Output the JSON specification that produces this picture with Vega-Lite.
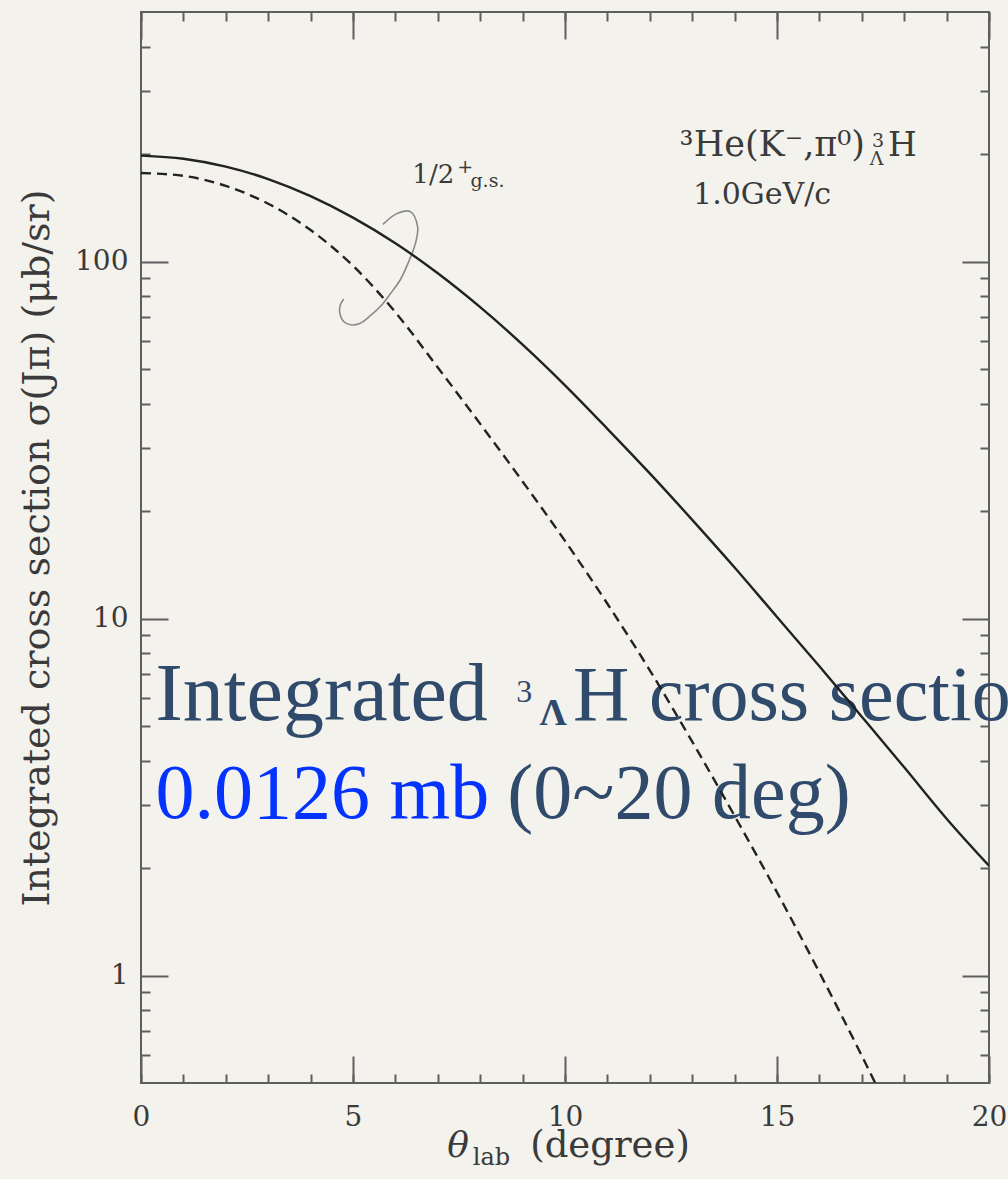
{
  "$schema": "https://vega.github.io/schema/vega-lite/v6.json",
  "width": 848,
  "height": 1071,
  "autosize": {"type": "none"},
  "padding": {"left": 141, "top": 12, "right": 19, "bottom": 96},
  "background": "#f4f2ed",
  "config": {
    "view": {"stroke": "#5e5e5e", "strokeWidth": 2},
    "axis": {
      "domain": false,
      "grid": false,
      "labelFont": "DejaVu Serif",
      "labelFontSize": 28,
      "labelColor": "#3a3a3a",
      "tickColor": "#5e5e5e",
      "tickWidth": 2,
      "titleFont": "DejaVu Serif",
      "titleFontWeight": "normal",
      "titleColor": "#3a3a3a"
    }
  },
  "resolve": {"axis": {"x": "independent", "y": "independent"}},
  "layer": [
    {
      "data": {"values": [
        {"t": 10.19, "s": 5.204, "text": "H cross section"},
        {"t": 8.64, "s": 2.765, "text": "(0~20 deg)"}
      ]},
      "mark": {"type": "text", "font": "Liberation Serif", "fontSize": 78, "color": "#2f4a6b", "align": "left", "baseline": "alphabetic"},
      "encoding": {
        "x": {"field": "t", "type": "quantitative", "scale": {"domain": [0, 20], "nice": false, "zero": false},
              "axis": {"orient": "top", "values": [0, 5, 10, 15, 20], "labels": false, "tickSize": -27, "title": null}},
        "y": {"field": "s", "type": "quantitative", "scale": {"type": "log", "domain": [0.5, 500], "nice": false},
              "axis": {"orient": "right", "values": [1, 10, 100], "labels": false, "tickSize": -27, "title": null}},
        "text": {"field": "text"}
      }
    },
    {
      "data": {"values": [{"t": 0.342, "s": 5.204, "text": "Integrated"}]},
      "mark": {"type": "text", "font": "Liberation Serif", "fontSize": 82, "color": "#2f4a6b", "align": "left", "baseline": "alphabetic"},
      "encoding": {
        "x": {"field": "t", "type": "quantitative", "scale": {"domain": [0, 20], "nice": false, "zero": false}, "axis": null},
        "y": {"field": "s", "type": "quantitative", "scale": {"type": "log", "domain": [0.5, 500], "nice": false}, "axis": null},
        "text": {"field": "text"}
      }
    },
    {
      "data": {"values": [{"t": 8.85, "s": 5.845, "text": "3"}]},
      "mark": {"type": "text", "font": "Liberation Serif", "fontSize": 32, "color": "#2f4a6b", "align": "left", "baseline": "alphabetic"},
      "encoding": {
        "x": {"field": "t", "type": "quantitative", "scale": {"domain": [0, 20], "nice": false, "zero": false},
              "axis": {"orient": "top", "values": [0,1,2,3,4,5,6,7,8,9,10,11,12,13,14,15,16,17,18,19,20], "labels": false, "tickSize": -9, "title": null}},
        "y": {"field": "s", "type": "quantitative", "scale": {"type": "log", "domain": [0.5, 500], "nice": false},
              "axis": {"orient": "right", "values": [0.6,0.7,0.8,0.9,2,3,4,5,6,7,8,9,20,30,40,50,60,70,80,90,200,300,400], "labels": false, "tickSize": -9, "title": null}},
        "text": {"field": "text"}
      }
    },
    {
      "data": {"values": [{"t": 9.4, "s": 5.04, "text": "Λ"}]},
      "mark": {"type": "text", "font": "Liberation Serif", "fontSize": 38, "fontWeight": "bold", "color": "#2f4a6b", "align": "left", "baseline": "alphabetic"},
      "encoding": {
        "x": {"field": "t", "type": "quantitative", "scale": {"domain": [0, 20], "nice": false, "zero": false}, "axis": null},
        "y": {"field": "s", "type": "quantitative", "scale": {"type": "log", "domain": [0.5, 500], "nice": false}, "axis": null},
        "text": {"field": "text"}
      }
    },
    {
      "data": {"values": [{"t": 0.342, "s": 2.765, "text": "0.0126 mb"}]},
      "mark": {"type": "text", "font": "Liberation Serif", "fontSize": 78, "color": "#0433ff", "align": "left", "baseline": "alphabetic"},
      "encoding": {
        "x": {"field": "t", "type": "quantitative", "scale": {"domain": [0, 20], "nice": false, "zero": false}, "axis": null},
        "y": {"field": "s", "type": "quantitative", "scale": {"type": "log", "domain": [0.5, 500], "nice": false}, "axis": null},
        "text": {"field": "text"}
      }
    },
    {
      "data": {"values": [{"t": 17.075, "s": 197.8, "text": "³He(K⁻,π⁰)"}]},
      "mark": {"type": "text", "font": "DejaVu Serif", "fontSize": 35, "color": "#3a3a3a", "align": "right", "baseline": "alphabetic"},
      "encoding": {
        "x": {"field": "t", "type": "quantitative", "scale": {"domain": [0, 20], "nice": false, "zero": false}, "axis": null},
        "y": {"field": "s", "type": "quantitative", "scale": {"type": "log", "domain": [0.5, 500], "nice": false}, "axis": null},
        "text": {"field": "text"}
      }
    },
    {
      "data": {"values": [
        {"t": 17.62, "s": 197.8, "text": "H"}
      ]},
      "mark": {"type": "text", "font": "DejaVu Serif", "fontSize": 33, "color": "#3a3a3a", "align": "left", "baseline": "alphabetic"},
      "encoding": {
        "x": {"field": "t", "type": "quantitative", "scale": {"domain": [0, 20], "nice": false, "zero": false}, "axis": null},
        "y": {"field": "s", "type": "quantitative", "scale": {"type": "log", "domain": [0.5, 500], "nice": false}, "axis": null},
        "text": {"field": "text"}
      }
    },
    {
      "data": {"values": [
        {"t": 13.02, "s": 145, "text": "1.0GeV/c"}
      ]},
      "mark": {"type": "text", "font": "DejaVu Serif", "fontSize": 30, "color": "#3a3a3a", "align": "left", "baseline": "alphabetic"},
      "encoding": {
        "x": {"field": "t", "type": "quantitative", "scale": {"domain": [0, 20], "nice": false, "zero": false}, "axis": null},
        "y": {"field": "s", "type": "quantitative", "scale": {"type": "log", "domain": [0.5, 500], "nice": false}, "axis": null},
        "text": {"field": "text"}
      }
    },
    {
      "data": {"values": [
        {"t": 17.24, "s": 209.6, "text": "3"},
        {"t": 17.19, "s": 186.6, "text": "Λ"},
        {"t": 7.46, "s": 177.3, "text": "+"},
        {"t": 7.77, "s": 161.9, "text": "g.s."}
      ]},
      "mark": {"type": "text", "font": "DejaVu Serif", "fontSize": 19, "color": "#3a3a3a", "align": "left", "baseline": "alphabetic"},
      "encoding": {
        "x": {"field": "t", "type": "quantitative", "scale": {"domain": [0, 20], "nice": false, "zero": false}, "axis": null},
        "y": {"field": "s", "type": "quantitative", "scale": {"type": "log", "domain": [0.5, 500], "nice": false}, "axis": null},
        "text": {"field": "text"}
      }
    },
    {
      "data": {"values": [{"t": 6.40, "s": 166.1, "text": "1/2"}]},
      "mark": {"type": "text", "font": "DejaVu Serif", "fontSize": 26, "color": "#3a3a3a", "align": "left", "baseline": "alphabetic"},
      "encoding": {
        "x": {"field": "t", "type": "quantitative", "scale": {"domain": [0, 20], "nice": false, "zero": false}, "axis": null},
        "y": {"field": "s", "type": "quantitative", "scale": {"type": "log", "domain": [0.5, 500], "nice": false}, "axis": null},
        "text": {"field": "text"}
      }
    },
    {
      "data": {"values": [
        {"t": 7.22, "s": 0.311, "text": "θ"}
      ]},
      "mark": {"type": "text", "font": "DejaVu Serif", "fontStyle": "italic", "fontSize": 36, "color": "#3a3a3a", "align": "left", "baseline": "alphabetic"},
      "encoding": {
        "x": {"field": "t", "type": "quantitative", "scale": {"domain": [0, 20], "nice": false, "zero": false}, "axis": null},
        "y": {"field": "s", "type": "quantitative", "scale": {"type": "log", "domain": [0.5, 500], "nice": false}, "axis": null},
        "text": {"field": "text"}
      }
    },
    {
      "data": {"values": [
        {"t": 7.824, "s": 0.295, "text": "lab"}
      ]},
      "mark": {"type": "text", "font": "DejaVu Serif", "fontSize": 24, "color": "#3a3a3a", "align": "left", "baseline": "alphabetic"},
      "encoding": {
        "x": {"field": "t", "type": "quantitative", "scale": {"domain": [0, 20], "nice": false, "zero": false}, "axis": null},
        "y": {"field": "s", "type": "quantitative", "scale": {"type": "log", "domain": [0.5, 500], "nice": false}, "axis": null},
        "text": {"field": "text"}
      }
    },
    {
      "data": {"values": [
        {"t": 9.18, "s": 0.311, "text": "(degree)"}
      ]},
      "mark": {"type": "text", "font": "DejaVu Serif", "fontSize": 37, "color": "#3a3a3a", "align": "left", "baseline": "alphabetic"},
      "encoding": {
        "x": {"field": "t", "type": "quantitative", "scale": {"domain": [0, 20], "nice": false, "zero": false}, "axis": null},
        "y": {"field": "s", "type": "quantitative", "scale": {"type": "log", "domain": [0.5, 500], "nice": false}, "axis": null},
        "text": {"field": "text"}
      }
    },
    {
      "data": {"values": [
        {"i": 1, "t": 5.708, "s": 127.1},
        {"i": 2, "t": 6.022, "s": 136.0},
        {"i": 3, "t": 6.352, "s": 138.0},
        {"i": 4, "t": 6.524, "s": 125.3},
        {"i": 5, "t": 6.493, "s": 115.0},
        {"i": 6, "t": 6.423, "s": 107.8},
        {"i": 7, "t": 6.282, "s": 97.9},
        {"i": 8, "t": 6.116, "s": 88.9},
        {"i": 9, "t": 5.880, "s": 81.2},
        {"i": 10, "t": 5.645, "s": 74.8},
        {"i": 11, "t": 5.409, "s": 70.5},
        {"i": 12, "t": 5.173, "s": 67.2},
        {"i": 13, "t": 4.938, "s": 66.5},
        {"i": 14, "t": 4.780, "s": 67.9},
        {"i": 15, "t": 4.685, "s": 72.3},
        {"i": 16, "t": 4.702, "s": 75.6},
        {"i": 17, "t": 4.780, "s": 78.5}
      ]},
      "mark": {"type": "line", "color": "#8a8a8a", "strokeWidth": 1.6, "interpolate": "catmull-rom"},
      "encoding": {
        "x": {"field": "t", "type": "quantitative", "scale": {"domain": [0, 20], "nice": false, "zero": false},
              "axis": {"orient": "bottom", "values": [0,1,2,3,4,5,6,7,8,9,10,11,12,13,14,15,16,17,18,19,20], "labels": false, "tickSize": -9, "title": null}},
        "y": {"field": "s", "type": "quantitative", "scale": {"type": "log", "domain": [0.5, 500], "nice": false},
              "axis": {"orient": "left", "values": [0.6,0.7,0.8,0.9,2,3,4,5,6,7,8,9,20,30,40,50,60,70,80,90,200,300,400], "labels": false, "tickSize": -9, "title": null}},
        "order": {"field": "i", "type": "quantitative"}
      }
    },
    {
      "data": {"values": [
        {"t": 0, "s": 177.0}, {"t": 1, "s": 173.8}, {"t": 2, "s": 162.9}, {"t": 3, "s": 145.2},
        {"t": 4, "s": 122.5}, {"t": 5, "s": 97.3}, {"t": 6, "s": 72.1}, {"t": 7, "s": 50.5},
        {"t": 8, "s": 35.1}, {"t": 9, "s": 24.2}, {"t": 10, "s": 16.5}, {"t": 11, "s": 11.0},
        {"t": 12, "s": 7.16}, {"t": 13, "s": 4.52}, {"t": 14, "s": 2.80}, {"t": 15, "s": 1.71},
        {"t": 16, "s": 1.02}, {"t": 17, "s": 0.596}, {"t": 18, "s": 0.339}
      ]},
      "mark": {"type": "line", "color": "#222222", "strokeWidth": 2.4, "strokeDash": [10, 6], "interpolate": "monotone", "clip": true},
      "encoding": {
        "x": {"field": "t", "type": "quantitative", "scale": {"domain": [0, 20], "nice": false, "zero": false},
              "axis": {"orient": "bottom", "values": [0, 5, 10, 15, 20], "labels": false, "tickSize": -27, "title": null}},
        "y": {"field": "s", "type": "quantitative", "scale": {"type": "log", "domain": [0.5, 500], "nice": false},
              "axis": {"orient": "left", "values": [1, 10, 100], "labels": false, "tickSize": -27, "title": null}}
      }
    },
    {
      "data": {"values": [
        {"t": 0, "s": 198.0}, {"t": 1, "s": 194.1}, {"t": 2, "s": 184.5}, {"t": 3, "s": 170.2},
        {"t": 4, "s": 152.4}, {"t": 5, "s": 132.7}, {"t": 6, "s": 112.5}, {"t": 7, "s": 92.7},
        {"t": 8, "s": 74.5}, {"t": 9, "s": 58.5}, {"t": 10, "s": 45.0}, {"t": 11, "s": 34.0},
        {"t": 12, "s": 25.5}, {"t": 13, "s": 18.9}, {"t": 14, "s": 13.9}, {"t": 15, "s": 10.1},
        {"t": 16, "s": 7.35}, {"t": 17, "s": 5.31}, {"t": 18, "s": 3.83}, {"t": 19, "s": 2.75},
        {"t": 20, "s": 2.03}
      ]},
      "mark": {"type": "line", "color": "#222222", "strokeWidth": 2.4, "interpolate": "monotone", "clip": true},
      "encoding": {
        "x": {"field": "t", "type": "quantitative", "scale": {"domain": [0, 20], "nice": false, "zero": false},
              "axis": {"orient": "bottom", "values": [0, 5, 10, 15, 20], "ticks": false, "labelPadding": 20, "labelFlush": false, "labelOverlap": false, "labelBound": false, "title": null}},
        "y": {"field": "s", "type": "quantitative", "scale": {"type": "log", "domain": [0.5, 500], "nice": false},
              "axis": {"orient": "left", "values": [1, 10, 100], "format": "d", "ticks": false, "labelPadding": 13, "labelFlush": false, "labelOverlap": false,
                       "title": "Integrated cross section σ(Jπ) (μb/sr)", "titleFontSize": 38, "titlePadding": 18}}
      }
    }
  ]
}
